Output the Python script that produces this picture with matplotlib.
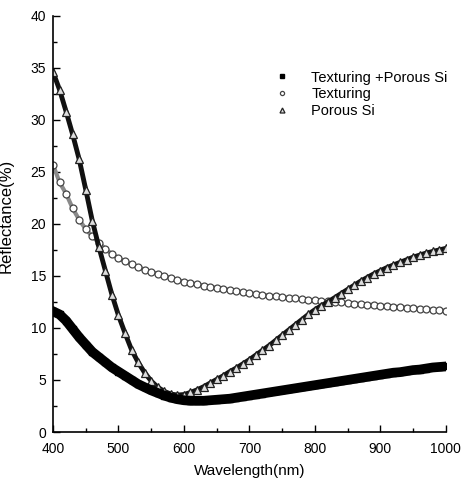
import numpy as np
import matplotlib
matplotlib.use("Agg")
import matplotlib.pyplot as plt
from matplotlib.ticker import MultipleLocator

plt.rcParams['font.family'] = ['Liberation Sans', 'DejaVu Sans']

wavelength = list(range(400, 1001, 10))

tex_porous = [11.6, 11.3, 10.7, 9.9, 9.1, 8.4, 7.7, 7.2, 6.7, 6.2,
              5.8, 5.4, 5.0, 4.6, 4.3, 4.0, 3.75, 3.5, 3.3, 3.15,
              3.05, 3.0, 3.0, 3.0, 3.05, 3.1, 3.15, 3.2, 3.3, 3.4,
              3.5, 3.6, 3.7, 3.8, 3.9, 4.0, 4.1, 4.2, 4.3, 4.4,
              4.5, 4.6, 4.7, 4.8, 4.9, 5.0, 5.1, 5.2, 5.3, 5.4,
              5.5, 5.6, 5.7, 5.75, 5.85, 5.95, 6.0, 6.1, 6.2, 6.25, 6.3]

texturing = [25.7, 24.0, 22.9, 21.5, 20.4, 19.5, 18.8, 18.2, 17.6, 17.1,
             16.7, 16.4, 16.1, 15.85, 15.6, 15.4, 15.2, 15.0, 14.8, 14.6,
             14.45, 14.3, 14.2, 14.05, 13.95, 13.85, 13.75, 13.65, 13.55, 13.45,
             13.35, 13.25, 13.2, 13.1, 13.05, 12.95, 12.9, 12.85, 12.75, 12.7,
             12.65, 12.6, 12.55, 12.5, 12.45, 12.4, 12.35, 12.3, 12.25, 12.2,
             12.15, 12.1, 12.05, 12.0, 11.95, 11.9, 11.85, 11.8, 11.75, 11.7, 11.65]

porous = [34.6, 32.9, 30.8, 28.6, 26.2, 23.3, 20.3, 17.8, 15.5, 13.2,
          11.2, 9.5, 7.9, 6.7, 5.7, 4.9, 4.3, 3.9, 3.65, 3.55,
          3.6, 3.8, 4.05, 4.35, 4.7, 5.05, 5.4, 5.8, 6.15, 6.55,
          6.95, 7.4, 7.85, 8.3, 8.8, 9.3, 9.8, 10.3, 10.8, 11.3,
          11.75, 12.15, 12.5, 12.9, 13.3, 13.7, 14.1, 14.5, 14.85, 15.2,
          15.5, 15.8, 16.05, 16.3, 16.55, 16.8, 17.0, 17.2, 17.35, 17.5, 17.65]

fig = plt.figure(figsize=(4.61, 4.80), dpi=100)
ax = fig.add_axes([0.115, 0.1, 0.852, 0.867])

ax.plot(wavelength, tex_porous, color='black', lw=7, marker='s', ms=5,
        mfc='black', mec='black', label='Texturing +Porous Si', zorder=3)
ax.plot(wavelength, texturing, color='#8a8a8a', lw=3, marker='o', ms=5,
        mfc='white', mec='#444444', mew=0.9, label='Texturing', zorder=2)
ax.plot(wavelength, porous, color='#111111', lw=3.5, marker='^', ms=6,
        mfc='#dddddd', mec='#222222', mew=0.9, label='Porous Si', zorder=2)

ax.set_xlim(400, 1000)
ax.set_ylim(0, 40)
ax.xaxis.set_major_locator(MultipleLocator(100))
ax.xaxis.set_minor_locator(MultipleLocator(50))
ax.yaxis.set_major_locator(MultipleLocator(5))
ax.yaxis.set_minor_locator(MultipleLocator(2.5))
ax.tick_params(which='major', direction='in', length=5, width=1, labelsize=10)
ax.tick_params(axis='x', which='major', pad=7)
ax.tick_params(axis='y', which='major', pad=5)
ax.tick_params(which='minor', direction='in', length=3, width=1)
for s in ['top', 'right']:
    ax.spines[s].set_visible(False)
for s in ['left', 'bottom']:
    ax.spines[s].set_linewidth(1.2)

ax.set_xlabel('Wavelength(nm)', fontsize=11, labelpad=6)
ax.set_ylabel('Reflectance(%)', fontsize=12, labelpad=2)
ax.yaxis.set_label_coords(-0.1, 0.52)

leg = ax.legend(loc='upper left', bbox_to_anchor=(0.535, 0.9), frameon=False,
                fontsize=10.5, handlelength=0.8, handletextpad=1.6,
                labelspacing=0.2, markerscale=0.6)
for h in leg.legend_handles:
    h.set_linestyle('None')

fig.savefig('out.png', dpi=100)
